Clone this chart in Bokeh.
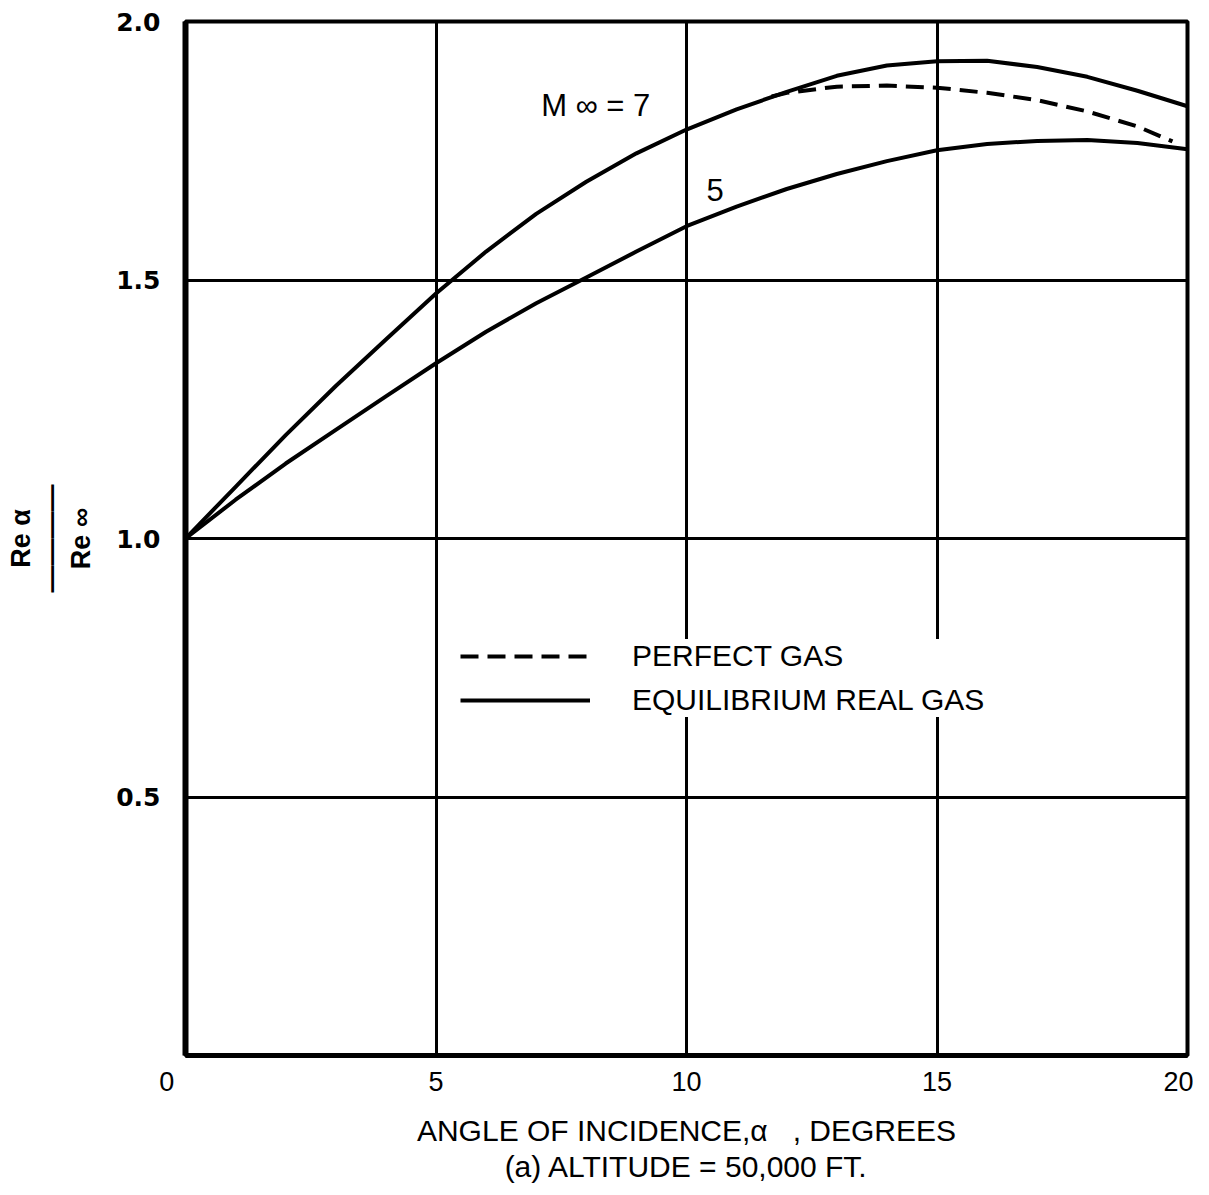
from bokeh.plotting import figure
from bokeh.models import FixedTicker, Label, Legend, LegendItem
from bokeh.embed import file_html
from bokeh.resources import INLINE

# ---- data ----
x_m7 = [0, 1, 2, 3, 4, 5, 6, 7, 8, 9, 10, 11, 12, 13, 14, 15, 16, 17, 18, 19, 20]
y_m7_real = [1.0, 1.10, 1.20, 1.295, 1.385, 1.474, 1.555, 1.628, 1.690, 1.745, 1.791,
             1.830, 1.864, 1.895, 1.915, 1.923, 1.924, 1.912, 1.893, 1.866, 1.836]
x_m7_perfect = [11.7, 12, 13, 14, 15, 16, 17, 18, 19, 19.7]
y_m7_perfect = [1.855, 1.862, 1.874, 1.876, 1.872, 1.862, 1.848, 1.826, 1.797, 1.768]
x_m5 = [0, 1, 2, 3, 4, 5, 6, 7, 8, 9, 10, 11, 12, 13, 14, 15, 16, 17, 18, 19, 20]
y_m5_real = [1.0, 1.075, 1.145, 1.210, 1.275, 1.339, 1.400, 1.455, 1.505, 1.555, 1.604,
             1.642, 1.676, 1.705, 1.730, 1.751, 1.763, 1.769, 1.771, 1.765, 1.753]
x_ticks = [0, 5, 10, 15, 20]
NB = "\u00a0"
x_tick_labels = {0: "0" + NB * 5, 5: "5", 10: "10", 15: "15", 20: "20"}
y_ticks = [0.5, 1.0, 1.5, 2.0]
y_tick_labels = {0.5: "0.5", 1.0: "1.0", 1.5: "1.5", 2.0: "2.0"}

FONT = "Liberation Sans"

p = figure(width=1193, height=1190, x_range=(0, 20), y_range=(0, 2.0),
           output_backend="svg", toolbar_location=None,
           min_border_left=185, min_border_right=6, min_border_top=21, min_border_bottom=135)
p.background_fill_color = "white"
p.border_fill_color = "white"
p.outline_line_color = "black"
p.outline_line_width = 4

p.xaxis.ticker = FixedTicker(ticks=x_ticks)
p.xaxis.major_label_overrides = x_tick_labels
p.yaxis.ticker = FixedTicker(ticks=y_ticks)
p.yaxis.major_label_overrides = y_tick_labels
p.xgrid.ticker = FixedTicker(ticks=[5, 10, 15])
p.ygrid.ticker = FixedTicker(ticks=[0.5, 1.0, 1.5])
for g in (p.xgrid, p.ygrid):
    g.grid_line_color = "black"
    g.grid_line_width = 3
    g.grid_line_alpha = 1.0

for ax in (p.xaxis, p.yaxis):
    ax.major_tick_line_color = None
    ax.minor_tick_line_color = None
    ax.axis_line_color = "black"
    ax.major_label_text_color = "black"
    ax.major_label_text_font = FONT
    ax.axis_label_text_font = FONT
    ax.axis_label_text_color = "black"
p.yaxis.axis_line_width = 6
p.xaxis.axis_line_width = 5
p.yaxis.major_label_text_font = "DejaVu Sans"
p.yaxis.major_label_text_font_size = "25px"
p.yaxis.major_label_text_font_style = "bold"
p.yaxis.major_label_standoff = 19
p.xaxis.major_label_text_font_size = "27px"
p.xaxis.major_label_standoff = 5

p.xaxis.axis_label = ("ANGLE OF INCIDENCE,\u03b1" + NB * 3 + ", DEGREES\n"
                      "(a) ALTITUDE = 50,000 FT.")
p.xaxis.axis_label_text_font_size = "30px"
p.xaxis.axis_label_text_font_style = "normal"
p.xaxis.axis_label_text_line_height = 1.1
p.xaxis.axis_label_standoff = 14

p.yaxis.axis_label = "Re \u03b1\n\u2014\u2014\u2014\u2014\nRe \u221e"
p.yaxis.axis_label_text_font_size = "27px"
p.yaxis.axis_label_text_font_style = "bold"
p.yaxis.axis_label_text_line_height = 1.0
p.yaxis.axis_label_standoff = 17

r_real7 = p.line(x_m7, y_m7_real, line_color="black", line_width=4)
r_real5 = p.line(x_m5, y_m5_real, line_color="black", line_width=4)
r_perf = p.line(x_m7_perfect, y_m7_perfect, line_color="black", line_width=4, line_dash="18 9")

legend = Legend(items=[LegendItem(label="PERFECT GAS", renderers=[r_perf]),
                       LegendItem(label="EQUILIBRIUM REAL GAS", renderers=[r_real7])],
                location=(275, 338), orientation="vertical",
                glyph_width=130, glyph_height=30, label_height=30, label_standoff=42,
                spacing=10, padding=10, margin=0,
                label_text_font=FONT, label_text_font_size="30px", label_text_color="black",
                border_line_color=None, background_fill_color="white", background_fill_alpha=1.0)
p.add_layout(legend, "center")

p.add_layout(Label(x=7.1, y=1.837, text="M \u221e = 7", text_font=FONT, text_font_size="31px",
                   text_align="left", text_baseline="middle", text_color="black"))
p.add_layout(Label(x=10.4, y=1.675, text="5", text_font=FONT, text_font_size="31px",
                   text_align="left", text_baseline="middle", text_color="black"))

open("out.html", "w").write(file_html(p, INLINE))
